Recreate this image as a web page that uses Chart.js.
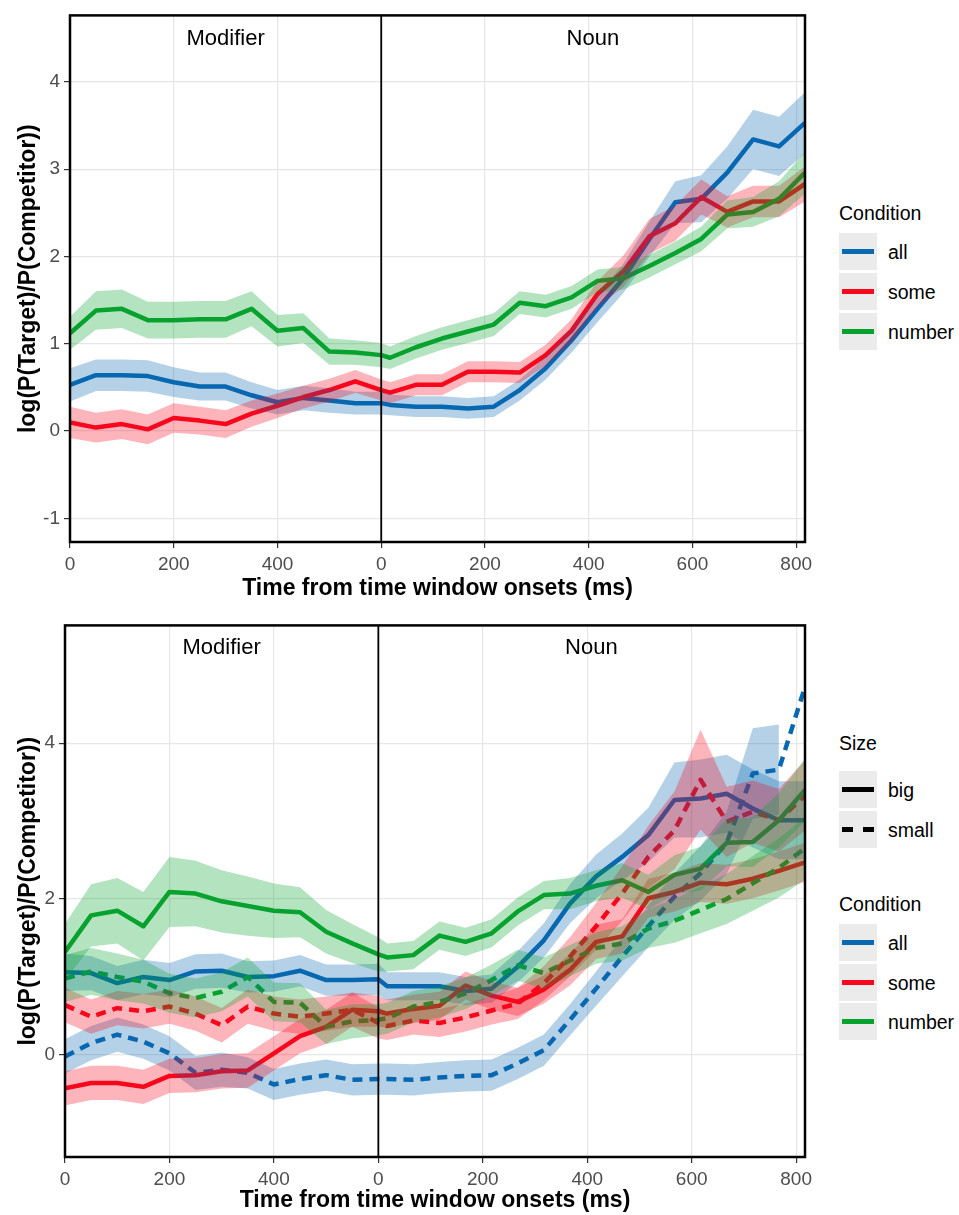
<!DOCTYPE html>
<html>
<head>
<meta charset="utf-8">
<script src="https://cdn.jsdelivr.net/npm/chart.js@4.4.1/dist/chart.umd.min.js"></script>
<style>
  body { margin: 0; background: #fff; width: 959px; height: 1215px; position: relative; overflow: hidden;
         font-family: 'Liberation Sans', Arial, sans-serif; }
  .wrap { position: absolute; left: 0; width: 820px; }
  #topWrap { top: 0; height: 610px; }
  #botWrap { top: 610px; height: 605px; }
  .lg-title, .lg-text { position: absolute; font-size: 19.5px; color: #000; line-height: 20px; white-space: nowrap; }
  .lg-title { left: 839px; }
  .lg-text { left: 888px; }
  .lg-key { position: absolute; left: 839px; width: 38px; height: 37px; background: #ebebeb; }
  .lg-key span { position: absolute; top: 16px; height: 5px; }
</style>
</head>
<body>
<div class="wrap" id="topWrap"><canvas id="topChart"></canvas></div>
<div class="wrap" id="botWrap"><canvas id="botChart"></canvas></div>
<script>
// time axis: modifier window 0..600 ms, noun window drawn after it (600 = noun onset)
var times = [0, 50, 100, 150, 200, 250, 300, 350, 400, 450, 500, 550, 600,
             617, 667, 717, 767, 817, 867, 917, 967, 1017, 1067, 1117, 1167, 1217, 1267, 1317, 1367, 1417];
var nounStart = 600;
var xTickVals = [0, 200, 400, 600, 800, 1000, 1200, 1400];
var xTickLabels = ['0', '200', '400', '0', '200', '400', '600', '800'];
var windowNames = ['Modifier', 'Noun'];
var windowCentres = [300, 1008];
var conditionNames = ['all', 'some', 'number'];
var sizeNames = ['big', 'small'];

// top panel: mean and ribbon half-width per condition
var topAll = [0.53, 0.64, 0.64, 0.63, 0.56, 0.51, 0.51, 0.41, 0.33, 0.38, 0.35, 0.32, 0.32,
              0.30, 0.28, 0.28, 0.26, 0.28, 0.47, 0.72, 1.04, 1.40, 1.75, 2.20, 2.62, 2.66, 2.96, 3.34, 3.26, 3.53];
var topAllCi = [0.19, 0.18, 0.18, 0.18, 0.17, 0.16, 0.16, 0.15, 0.14, 0.14, 0.14, 0.13, 0.13,
                0.12, 0.12, 0.12, 0.12, 0.12, 0.12, 0.13, 0.14, 0.15, 0.17, 0.20, 0.24, 0.27, 0.30, 0.34, 0.34, 0.35];
var topSome = [0.10, 0.04, 0.08, 0.02, 0.15, 0.12, 0.08, 0.20, 0.29, 0.39, 0.47, 0.57, 0.47,
               0.44, 0.53, 0.53, 0.68, 0.68, 0.67, 0.87, 1.15, 1.57, 1.83, 2.23, 2.38, 2.68, 2.51, 2.63, 2.63, 2.83];
var topSomeCi = [0.18, 0.17, 0.17, 0.17, 0.17, 0.16, 0.16, 0.15, 0.14, 0.13, 0.13, 0.13, 0.12,
                 0.12, 0.12, 0.12, 0.12, 0.12, 0.12, 0.12, 0.13, 0.15, 0.18, 0.20, 0.20, 0.20, 0.18, 0.18, 0.18, 0.20];
var topNumber = [1.12, 1.38, 1.40, 1.27, 1.27, 1.28, 1.28, 1.40, 1.15, 1.18, 0.91, 0.90, 0.87,
                 0.84, 0.96, 1.06, 1.14, 1.22, 1.47, 1.43, 1.53, 1.72, 1.75, 1.89, 2.04, 2.20, 2.48, 2.51, 2.66, 2.96];
var topNumberCi = [0.19, 0.22, 0.22, 0.21, 0.21, 0.21, 0.21, 0.20, 0.18, 0.17, 0.15, 0.14, 0.14,
                   0.13, 0.13, 0.13, 0.13, 0.13, 0.13, 0.13, 0.13, 0.13, 0.13, 0.13, 0.13, 0.14, 0.16, 0.17, 0.20, 0.24];

// bottom panel: condition x size
var botAllBig = [1.06, 1.05, 0.92, 1.00, 0.96, 1.07, 1.08, 1.00, 1.01, 1.08, 0.96, 0.96, 0.97,
                 0.88, 0.88, 0.88, 0.82, 0.85, 1.13, 1.47, 1.94, 2.29, 2.54, 2.82, 3.27, 3.29, 3.35, 3.16, 3.01, 3.01];
var botAllBigCi = [0.24, 0.22, 0.22, 0.22, 0.22, 0.22, 0.22, 0.20, 0.20, 0.20, 0.20, 0.20, 0.20,
                   0.18, 0.18, 0.18, 0.18, 0.18, 0.20, 0.22, 0.25, 0.28, 0.30, 0.35, 0.48, 0.50, 0.50, 0.50, 0.50, 0.50];
var botAllSmall = [-0.02, 0.15, 0.26, 0.17, 0.02, -0.23, -0.19, -0.23, -0.38, -0.31, -0.26, -0.32, -0.31,
                   -0.31, -0.32, -0.29, -0.27, -0.26, -0.11, 0.06, 0.45, 0.85, 1.26, 1.65, 2.03, 2.33, 2.72, 3.61, 3.66, 4.72];
var botAllSmallCi = [0.22, 0.22, 0.22, 0.22, 0.22, 0.22, 0.22, 0.20, 0.20, 0.20, 0.20, 0.20, 0.20,
                     0.20, 0.20, 0.20, 0.20, 0.20, 0.20, 0.20, 0.20, 0.22, 0.25, 0.27, 0.30, 0.35, 0.40, 0.58, 0.58, null];
var botSomeBig = [-0.43, -0.36, -0.36, -0.41, -0.27, -0.26, -0.21, -0.20, 0.02, 0.24, 0.36, 0.58, 0.56,
                  0.53, 0.59, 0.63, 0.89, 0.76, 0.68, 0.84, 1.09, 1.45, 1.52, 2.01, 2.09, 2.21, 2.19, 2.26, 2.36, 2.47];
var botSomeBigCi = [0.22, 0.22, 0.22, 0.22, 0.22, 0.22, 0.22, 0.22, 0.22, 0.22, 0.22, 0.22, 0.20,
                    0.18, 0.18, 0.18, 0.18, 0.18, 0.18, 0.18, 0.20, 0.22, 0.22, 0.25, 0.25, 0.25, 0.25, 0.25, 0.25, 0.25];
var botSomeSmall = [0.64, 0.49, 0.60, 0.56, 0.62, 0.53, 0.38, 0.62, 0.53, 0.49, 0.53, 0.58, 0.41,
                    0.37, 0.44, 0.41, 0.48, 0.57, 0.66, 0.92, 1.26, 1.65, 2.07, 2.54, 2.88, 3.53, 2.99, 3.12, 3.01, 3.33];
var botSomeSmallCi = [0.22, 0.22, 0.22, 0.22, 0.22, 0.22, 0.22, 0.22, 0.22, 0.22, 0.22, 0.22, 0.20,
                      0.18, 0.18, 0.18, 0.18, 0.18, 0.20, 0.22, 0.25, 0.30, 0.35, 0.40, 0.50, 0.64, 0.45, 0.40, 0.40, 0.45];
var botNumberBig = [1.32, 1.79, 1.85, 1.65, 2.09, 2.07, 1.97, 1.91, 1.85, 1.83, 1.58, 1.43, 1.29,
                    1.25, 1.28, 1.53, 1.45, 1.56, 1.84, 2.05, 2.07, 2.17, 2.24, 2.09, 2.31, 2.39, 2.72, 2.73, 3.01, 3.40];
var botNumberBigCi = [0.36, 0.40, 0.42, 0.44, 0.45, 0.42, 0.40, 0.38, 0.35, 0.32, 0.28, 0.25, 0.22,
                      0.18, 0.18, 0.18, 0.18, 0.18, 0.18, 0.18, 0.20, 0.20, 0.22, 0.22, 0.25, 0.28, 0.30, 0.32, 0.35, 0.40];
var botNumberSmall = [0.98, 1.07, 1.00, 0.94, 0.79, 0.73, 0.81, 1.00, 0.68, 0.67, 0.36, 0.43, 0.45,
                      0.47, 0.62, 0.68, 0.79, 0.96, 1.15, 1.05, 1.21, 1.37, 1.43, 1.62, 1.72, 1.86, 2.00, 2.20, 2.40, 2.65];
var botNumberSmallCi = [0.30, 0.30, 0.30, 0.28, 0.25, 0.25, 0.25, 0.25, 0.25, 0.25, 0.22, 0.22, 0.20,
                        0.20, 0.20, 0.20, 0.20, 0.20, 0.20, 0.20, 0.20, 0.20, 0.22, 0.25, 0.28, 0.30, 0.32, 0.35, 0.38, 0.40];

var colours = { all: '#0868b0', some: '#f7081c', number: '#06a22e' };
var FONT = "'Liberation Sans', Arial, sans-serif";

function rgba(hex, a) {
	var n = parseInt(hex.slice(1), 16);
	return 'rgba(' + (n >> 16) + ',' + ((n >> 8) & 255) + ',' + (n & 255) + ',' + a + ')';
}

var decor = {
	id: 'decor',
	afterDatasetsDraw: function (chart, args, opts) {
		var ctx = chart.ctx, a = chart.chartArea, x = chart.scales.x;
		ctx.save();
		var bx = x.getPixelForValue(nounStart);
		ctx.strokeStyle = '#000';
		ctx.lineWidth = 1.8;
		ctx.beginPath();
		ctx.moveTo(bx, a.top);
		ctx.lineTo(bx, a.bottom);
		ctx.stroke();
		ctx.fillStyle = '#000';
		ctx.font = '22px ' + FONT;
		ctx.textAlign = 'center';
		ctx.textBaseline = 'middle';
		windowNames.forEach(function (n, i) {
			ctx.fillText(n, x.getPixelForValue(windowCentres[i]), a.top + opts.labelY);
		});
		ctx.lineWidth = 2.5;
		ctx.strokeRect(a.left, a.top, a.right - a.left, a.bottom - a.top);
		ctx.restore();
	}
};

function makeChart(id, cfg) {
	var ribbons = [], lines = [];
	cfg.series.forEach(function (s, k) {
		ribbons.push({
			data: times.map(function (t, i) { return { x: t, y: s.ci[i] == null ? null : s.values[i] - s.ci[i] }; }),
			borderWidth: 0, borderColor: 'transparent', pointRadius: 0, fill: false, order: 100 - k
		});
		ribbons.push({
			data: times.map(function (t, i) { return { x: t, y: s.ci[i] == null ? null : s.values[i] + s.ci[i] }; }),
			borderWidth: 0, borderColor: 'transparent', pointRadius: 0, fill: '-1',
			backgroundColor: rgba(s.color, 0.3), order: 100 - k
		});
		lines.push({
			data: times.map(function (t, i) { return { x: t, y: s.values[i] }; }),
			borderColor: s.color, borderWidth: 4.5, borderDash: s.dash ? [10, 7] : [],
			pointRadius: 0, fill: false, order: 200 - k
		});
	});

	return new Chart(document.getElementById(id), {
		type: 'line',
		data: { datasets: ribbons.concat(lines) },
		plugins: [decor],
		options: {
			animation: false,
			responsive: true,
			maintainAspectRatio: false,
			layout: { padding: { left: 0, right: 15, top: cfg.padTop, bottom: 0 } },
			elements: { line: { tension: 0, borderJoinStyle: 'round', borderCapStyle: 'butt' }, point: { radius: 0 } },
			plugins: {
				legend: { display: false },
				tooltip: { enabled: false },
				filler: { propagate: false, drawTime: 'beforeDatasetDraw' },
				decor: { labelY: cfg.labelY }
			},
			scales: {
				x: {
					type: 'linear', min: 0, max: 1417,
					afterBuildTicks: function (s) { s.ticks = xTickVals.map(function (v) { return { value: v }; }); },
					afterFit: function (s) { s.height = cfg.xHeight; },
					ticks: {
						autoSkip: false, maxRotation: 0, padding: 5, color: '#4d4d4d',
						font: { size: 19, family: FONT },
						callback: function (v, i) { return xTickLabels[i]; }
					},
					grid: { color: '#e6e6e6', lineWidth: 1.2, tickColor: '#333', tickLength: 6 },
					border: { display: false },
					title: {
						display: true, text: 'Time from time window onsets (ms)', color: '#000',
						font: { size: 23, weight: 'bold', family: FONT },
						padding: { top: 0, bottom: cfg.xTitlePad }
					}
				},
				y: {
					type: 'linear', min: cfg.yMin, max: cfg.yMax,
					afterBuildTicks: function (s) { s.ticks = cfg.yTicks.map(function (v) { return { value: v }; }); },
					afterFit: function (s) { s.width = cfg.yWidth; },
					ticks: { padding: 4, color: '#4d4d4d', font: { size: 19, family: FONT } },
					grid: { color: '#e6e6e6', lineWidth: 1.2, tickColor: '#333', tickLength: 6 },
					border: { display: false },
					title: {
						display: true, text: 'log(P(Target)/P(Competitor))', color: '#000',
						font: { size: 23, weight: 'bold', family: FONT },
						padding: { top: 15, bottom: 0 }
					}
				}
			}
		}
	});
}

makeChart('topChart', {
	series: [
		{ values: topAll, ci: topAllCi, color: colours.all },
		{ values: topSome, ci: topSomeCi, color: colours.some },
		{ values: topNumber, ci: topNumberCi, color: colours.number }
	],
	yMin: -1.27, yMax: 4.76, yTicks: [-1, 0, 1, 2, 3, 4],
	yWidth: 70, xHeight: 68, padTop: 11, xTitlePad: 8, labelY: 24
});

makeChart('botChart', {
	series: [
		{ values: botAllBig, ci: botAllBigCi, color: colours.all },
		{ values: botAllSmall, ci: botAllSmallCi, color: colours.all, dash: true },
		{ values: botSomeBig, ci: botSomeBigCi, color: colours.some },
		{ values: botSomeSmall, ci: botSomeSmallCi, color: colours.some, dash: true },
		{ values: botNumberBig, ci: botNumberBigCi, color: colours.number },
		{ values: botNumberSmall, ci: botNumberSmallCi, color: colours.number, dash: true }
	],
	yMin: -1.31, yMax: 5.51, yTicks: [0, 2, 4],
	yWidth: 65, xHeight: 58, padTop: 15, xTitlePad: 0.5, labelY: 23
});

// legends (ggplot style keys)
function addText(cls, text, cy) {
	var d = document.createElement('div');
	d.className = cls;
	d.textContent = text;
	d.style.top = (cy - 10) + 'px';
	document.body.appendChild(d);
}
function addKey(top, label, color, dashed) {
	var k = document.createElement('div');
	k.className = 'lg-key';
	k.style.top = top + 'px';
	var parts = dashed ? [[3, 11], [24, 11]] : [[3, 32]];
	parts.forEach(function (p) {
		var s = document.createElement('span');
		s.style.left = p[0] + 'px';
		s.style.width = p[1] + 'px';
		s.style.background = color;
		k.appendChild(s);
	});
	document.body.appendChild(k);
	addText('lg-text', label, top + 18.5);
}
function conditionLegend(titleY, keyTops) {
	addText('lg-title', 'Condition', titleY);
	conditionNames.forEach(function (c, i) { addKey(keyTops[i], c, colours[c], false); });
}

conditionLegend(213, [233, 273, 313]);
addText('lg-title', 'Size', 743);
sizeNames.forEach(function (s, i) { addKey([771, 811][i], s, '#000', i === 1); });
conditionLegend(904, [924, 964, 1003]);
</script>
</body>
</html>
